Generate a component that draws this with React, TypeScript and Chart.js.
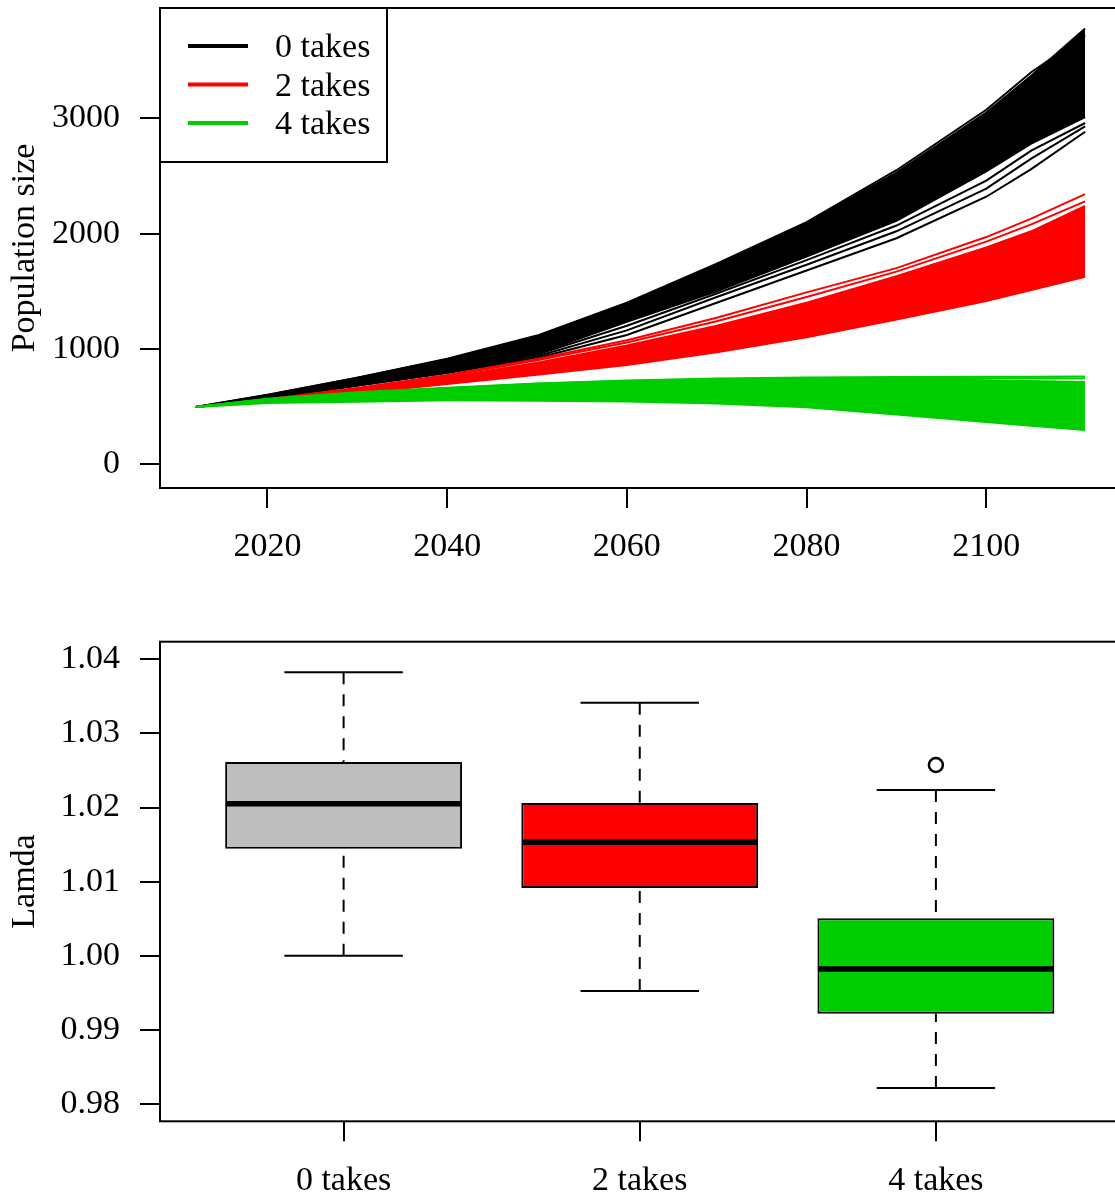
import React, { useEffect, useRef } from "react";
import { Chart, registerables } from "chart.js";

Chart.register(...registerables);

const FONT = "'Liberation Serif', 'Times New Roman', serif";

// ---------------- Top panel: population trajectories ----------------
const years = [2012, 2020, 2030, 2040, 2050, 2060, 2070, 2080, 2090, 2100, 2105, 2111];
const xTicksTop = [2020, 2040, 2060, 2080, 2100];
const yTicksTop = [0, 1000, 2000, 3000];

// 0 takes (black): dense band envelope + separated runs
const takes0BandTop = [495, 600, 748, 910, 1110, 1395, 1730, 2090, 2530, 3050, 3370, 3780];
const takes0BandBottom = [495, 572, 690, 795, 960, 1235, 1500, 1800, 2110, 2540, 2780, 3010];
const takes0RunA = [495, 567, 680, 790, 920, 1120, 1400, 1680, 1960, 2320, 2560, 2884];
const takes0RunB = [495, 569, 684, 795, 935, 1160, 1450, 1730, 2020, 2390, 2650, 2930];
const takes0RunC = [495, 570, 688, 800, 950, 1200, 1480, 1770, 2070, 2460, 2720, 2960];
const takes0RunD = [495, 601, 750, 913, 1115, 1400, 1740, 2100, 2550, 3075, 3400, 3720];

// 2 takes (red)
const takes2BandTop = [495, 556, 648, 752, 880, 1030, 1200, 1400, 1630, 1880, 2020, 2240];
const takes2BandBottom = [495, 545, 615, 695, 775, 860, 970, 1100, 1255, 1415, 1510, 1626];
const takes2RunA = [495, 562, 660, 772, 912, 1075, 1270, 1490, 1700, 1970, 2130, 2343];
const takes2RunB = [495, 560, 655, 765, 900, 1055, 1240, 1450, 1670, 1930, 2080, 2280];

// 4 takes (green)
const takes4BandTop = [495, 562, 615, 655, 692, 716, 732, 742, 738, 728, 720, 712];
const takes4BandBottom = [495, 530, 541, 553, 550, 542, 525, 493, 429, 365, 333, 295];
const takes4RunA = [495, 566, 622, 662, 700, 724, 742, 752, 756, 757, 758, 760];
const takes4RunB = [495, 563, 618, 658, 696, 720, 736, 746, 746, 745, 744, 743];

const legendLabels = ["0 takes", "2 takes", "4 takes"];
const seriesColors = ["#000000", "#FF0000", "#00CD00"];

// ---------------- Bottom panel: lambda boxplots ----------------
const boxCategories = ["0 takes", "2 takes", "4 takes"];
const boxLowerWhisker = [1.0, 0.99525, 0.98216];
const boxQ1 = [1.01445, 1.00914, 0.99219];
const boxMedian = [1.02052, 1.01531, 0.99822];
const boxQ3 = [1.02614, 1.02061, 1.00506];
const boxUpperWhisker = [1.03825, 1.03414, 1.02237];
const boxOutliers = [[], [], [1.02574]];
const boxFills = ["#BEBEBE", "#FF0000", "#00CD00"];
const yTicksBottom = [0.98, 0.99, 1.0, 1.01, 1.02, 1.03, 1.04];

// ---------------- layout constants ----------------
const CW = 1140;
const TOP_H = 600;
const BOT_H = 596;
const LINE_W = 2;
const BOX_HALF = 0.4;
const STAPLE_HALF = 0.2;

const frame = {
  id: "frame",
  afterDraw(chart: any) {
    const { ctx, chartArea: a } = chart;
    ctx.save();
    ctx.strokeStyle = "#000";
    ctx.lineWidth = 2;
    ctx.strokeRect(a.left, a.top, a.right - a.left, a.bottom - a.top);
    ctx.restore();
  },
};

const legendPlugin = {
  id: "rLegend",
  afterDraw(chart: any) {
    const { ctx, chartArea: a } = chart;
    ctx.save();
    ctx.strokeStyle = "#000";
    ctx.lineWidth = 2;
    ctx.strokeRect(a.left, a.top, 227, 154);
    legendLabels.forEach((lab, i) => {
      const y = a.top + 38 + i * 38.5;
      ctx.strokeStyle = seriesColors[i];
      ctx.lineWidth = 4;
      ctx.beginPath();
      ctx.moveTo(a.left + 28, y);
      ctx.lineTo(a.left + 88, y);
      ctx.stroke();
      ctx.fillStyle = "#000";
      ctx.font = `34px ${FONT}`;
      ctx.textBaseline = "middle";
      ctx.textAlign = "left";
      ctx.fillText(lab, a.left + 115, y + 2.5);
    });
    ctx.restore();
  },
};

const toPts = (vals: number[]) => years.map((yr, i) => ({ x: yr, y: vals[i] }));

function lineDs(vals: number[], color: string, order: number, fill: boolean) {
  return {
    type: "line",
    data: toPts(vals),
    borderColor: color,
    backgroundColor: color,
    borderWidth: LINE_W,
    pointRadius: 0,
    tension: 0,
    fill: fill ? "+1" : false,
    order,
  };
}

const axisFont = { family: FONT, size: 34 };

function topConfig(): any {
  const datasets = [
    lineDs(takes0BandTop, seriesColors[0], 3, true),
    lineDs(takes0BandBottom, seriesColors[0], 3, false),
    lineDs(takes0RunA, seriesColors[0], 3, false),
    lineDs(takes0RunB, seriesColors[0], 3, false),
    lineDs(takes0RunC, seriesColors[0], 3, false),
    lineDs(takes0RunD, seriesColors[0], 3, false),
    lineDs(takes2BandTop, seriesColors[1], 2, true),
    lineDs(takes2BandBottom, seriesColors[1], 2, false),
    lineDs(takes2RunA, seriesColors[1], 2, false),
    lineDs(takes2RunB, seriesColors[1], 2, false),
    lineDs(takes4BandTop, seriesColors[2], 1, true),
    lineDs(takes4BandBottom, seriesColors[2], 1, false),
    lineDs(takes4RunA, seriesColors[2], 1, false),
    lineDs(takes4RunB, seriesColors[2], 1, false),
  ];
  return {
    type: "line",
    data: { datasets },
    options: {
      responsive: false,
      animation: false,
      events: [],
      layout: { autoPadding: false, padding: { left: 0, top: 8, right: CW - 1120.7, bottom: 0 } },
      plugins: { legend: { display: false }, tooltip: { enabled: false } },
      scales: {
        x: {
          type: "linear",
          min: 2008.04,
          max: 2114.96,
          offset: false,
          afterBuildTicks: (s: any) => {
            s.ticks = xTicksTop.map((v) => ({ value: v }));
          },
          afterFit: (s: any) => {
            s.height = TOP_H - 488;
            s.paddingLeft = 0;
            s.paddingRight = 0;
          },
          grid: { display: true, drawOnChartArea: false, drawTicks: true, tickLength: 20, color: "#000", lineWidth: 2 },
          border: { display: false },
          ticks: { color: "#000", font: axisFont, padding: 19, maxRotation: 0, autoSkip: false, callback: (v: any) => String(v) },
        },
        y: {
          type: "linear",
          min: -208,
          max: 3958,
          afterBuildTicks: (s: any) => {
            s.ticks = yTicksTop.map((v) => ({ value: v }));
          },
          afterFit: (s: any) => {
            s.width = 160;
            s.paddingTop = 0;
            s.paddingBottom = 0;
          },
          grid: { display: true, drawOnChartArea: false, drawTicks: true, tickLength: 20, color: "#000", lineWidth: 2 },
          border: { display: false },
          ticks: { color: "#000", font: axisFont, padding: 20, autoSkip: false, callback: (v: any) => String(v) },
          title: { display: true, text: "Population size", color: "#000", font: axisFont, padding: { top: 5, bottom: 0 } },
        },
      },
    },
    plugins: [frame, legendPlugin],
  };
}

function bottomConfig(): any {
  const datasets: any[] = [];
  datasets.push({
    type: "bar",
    data: boxCategories.map((_, i) => ({ x: i + 1, y: [boxQ1[i], boxQ3[i]] })),
    backgroundColor: boxFills,
    borderColor: "#000",
    borderWidth: 2,
    borderSkipped: false,
    categoryPercentage: 1,
    barPercentage: 0.8,
    order: 2,
  });
  const seg = (pts: any[], width: number, order: number, dash: number[] = []) => ({
    type: "line",
    data: pts,
    borderColor: "#000",
    borderWidth: width,
    borderDash: dash,
    borderCapStyle: "butt",
    pointRadius: 0,
    tension: 0,
    fill: false,
    order,
  });
  boxCategories.forEach((_, i) => {
    const x = i + 1;
    datasets.push(seg([{ x, y: boxUpperWhisker[i] }, { x, y: boxQ3[i] }], 2, 3, [12, 10]));
    datasets.push(seg([{ x, y: boxLowerWhisker[i] }, { x, y: boxQ1[i] }], 2, 3, [12, 10]));
    datasets.push(seg([{ x: x - STAPLE_HALF, y: boxUpperWhisker[i] }, { x: x + STAPLE_HALF, y: boxUpperWhisker[i] }], 2, 3));
    datasets.push(seg([{ x: x - STAPLE_HALF, y: boxLowerWhisker[i] }, { x: x + STAPLE_HALF, y: boxLowerWhisker[i] }], 2, 3));
    datasets.push(seg([{ x: x - BOX_HALF + 0.004, y: boxMedian[i] }, { x: x + BOX_HALF - 0.004, y: boxMedian[i] }], 5.5, 1));
  });
  datasets.push({
    type: "scatter",
    data: boxOutliers.flatMap((vals, i) => vals.map((v) => ({ x: i + 1, y: v }))),
    pointStyle: "circle",
    pointRadius: 7,
    borderWidth: 2.5,
    borderColor: "#000",
    backgroundColor: "rgba(0,0,0,0)",
    order: 0,
  });
  return {
    type: "bar",
    data: { datasets },
    options: {
      responsive: false,
      animation: false,
      events: [],
      layout: { autoPadding: false, padding: { left: 0, top: 41.7, right: CW - 1119.5, bottom: 0 } },
      plugins: { legend: { display: false }, tooltip: { enabled: false } },
      scales: {
        x: {
          type: "linear",
          min: 0.38,
          max: 3.62,
          offset: false,
          afterBuildTicks: (s: any) => {
            s.ticks = boxCategories.map((_, i) => ({ value: i + 1 }));
          },
          afterFit: (s: any) => {
            s.height = BOT_H - 521.3;
            s.paddingLeft = 0;
            s.paddingRight = 0;
          },
          grid: { display: true, drawOnChartArea: false, drawTicks: true, tickLength: 20, color: "#000", lineWidth: 2, offset: false },
          border: { display: false },
          ticks: {
            color: "#000",
            font: axisFont,
            padding: 19.5,
            maxRotation: 0,
            autoSkip: false,
            callback: (v: any) => boxCategories[Math.round(Number(v)) - 1],
          },
        },
        y: {
          type: "linear",
          min: 0.97767,
          max: 1.04237,
          beginAtZero: false,
          afterBuildTicks: (s: any) => {
            s.ticks = yTicksBottom.map((v) => ({ value: v }));
          },
          afterFit: (s: any) => {
            s.width = 160;
            s.paddingTop = 0;
            s.paddingBottom = 0;
          },
          grid: { display: true, drawOnChartArea: false, drawTicks: true, tickLength: 20, color: "#000", lineWidth: 2 },
          border: { display: false },
          ticks: { color: "#000", font: axisFont, padding: 20, autoSkip: false, callback: (v: any) => Number(v).toFixed(2) },
          title: { display: true, text: "Lamda", color: "#000", font: axisFont, padding: { top: 5, bottom: 0 } },
        },
      },
    },
    plugins: [frame],
  };
}

export default function App() {
  const topRef = useRef<HTMLCanvasElement>(null);
  const botRef = useRef<HTMLCanvasElement>(null);
  useEffect(() => {
    const c1 = new Chart(topRef.current as HTMLCanvasElement, topConfig());
    const c2 = new Chart(botRef.current as HTMLCanvasElement, bottomConfig());
    return () => {
      c1.destroy();
      c2.destroy();
    };
  }, []);
  return (
    <div style={{ position: "fixed", left: 0, top: 0, width: 1115, height: 1196, overflow: "hidden", background: "#fff" }}>
      <canvas ref={topRef} width={CW} height={TOP_H} style={{ position: "absolute", left: 0, top: 0, width: CW, height: TOP_H }} />
      <canvas ref={botRef} width={CW} height={BOT_H} style={{ position: "absolute", left: 0, top: TOP_H, width: CW, height: BOT_H }} />
    </div>
  );
}
